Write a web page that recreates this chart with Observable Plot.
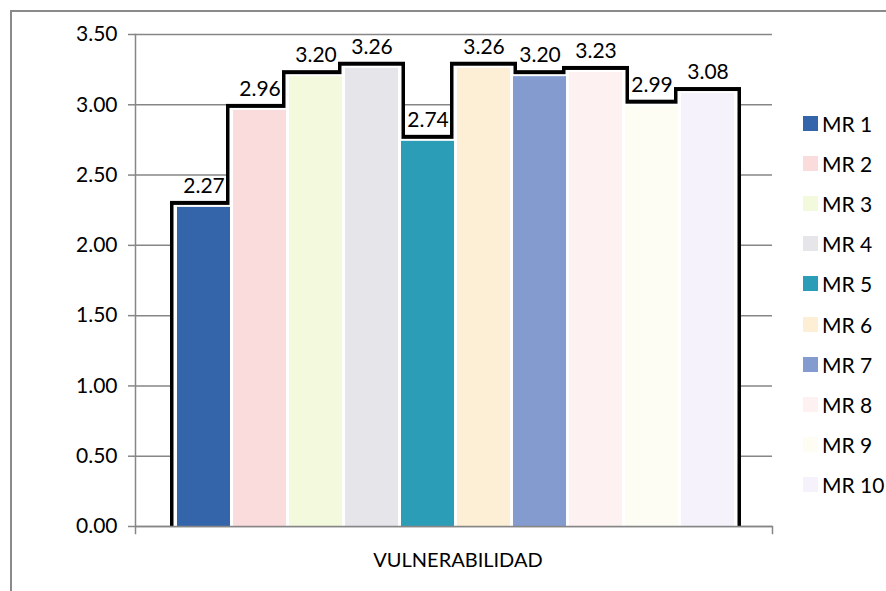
<!DOCTYPE html>
<html><head><meta charset="utf-8">
<script src="https://cdn.jsdelivr.net/npm/d3@7"></script>
<script src="https://cdn.jsdelivr.net/npm/@observablehq/plot@0.6"></script>
<style>
body{margin:0;background:#fff;}
#wrap{position:relative;width:886px;height:591px;overflow:hidden;font-family:Lato,sans-serif;background:#fff;}
#border{position:absolute;left:10px;top:10px;width:900px;height:600px;border-left:2px solid #8a8a8a;border-top:2px solid #8a8a8a;pointer-events:none;}
#chart{position:absolute;left:0;top:0;}
#legend{position:absolute;left:803px;top:0;}
.item{position:absolute;left:0;display:flex;align-items:center;white-space:nowrap;font-size:21px;color:#000;height:24px;}
.sw{width:15px;height:15px;margin-right:4px;}
</style></head><body>
<div id="wrap"><div id="chart"></div><div id="legend"></div><div id="border"></div></div>
<script>
const category = "VULNERABILIDAD";
const series = ["MR 1","MR 2","MR 3","MR 4","MR 5","MR 6","MR 7","MR 8","MR 9","MR 10"];
const values = [2.27, 2.96, 3.20, 3.26, 2.74, 3.26, 3.20, 3.23, 2.99, 3.08];
const colors = ["#3465ab","#fbdcdc","#f2f9dc","#e6e5ea","#2c9db6","#fdefd6","#839bcf","#fdf1f1","#fdfdf3","#f5f2fb"];
const yTicks = [0, 0.5, 1.0, 1.5, 2.0, 2.5, 3.0, 3.5];

const data = series.map((name, i) => ({name, value: values[i], color: colors[i]}));

const W = 886, H = 591, mt = 34, mb = 65, ml = 135, mr = 114;
const gray = "#868686";

const chart = Plot.plot({
  width: W, height: H,
  marginTop: mt, marginBottom: mb, marginLeft: ml, marginRight: mr,
  style: {fontFamily: "Lato, sans-serif", fontSize: "20px", background: "transparent", color: "#000"},
  x: {domain: series, paddingInner: 0.05, paddingOuter: 0, insetLeft: 42, insetRight: 37, axis: null},
  y: {domain: [0, 3.5], axis: null},
  marks: [
    Plot.gridY(yTicks, {stroke: gray, strokeOpacity: 1, strokeWidth: 1.5}),
    Plot.axisY(yTicks, {tickFormat: d3.format(".2f"), tickSize: 7, tickPadding: 11, stroke: gray, strokeWidth: 1.5, fill: "#000", fontSize: 21, label: null}),
    Plot.frame({anchor: "left", stroke: gray, strokeWidth: 1.5, insetBottom: -7}),
    Plot.frame({anchor: "right", stroke: gray, strokeWidth: 1.5, insetTop: H - mt - mb, insetBottom: -7}),
    Plot.text(data, {x: "name", y: "value", text: d => d.value.toFixed(2), dy: -21, fill: "#000", fontSize: 21}),
    Plot.barY(data, {x: "name", y: "value", fill: "#000", insetLeft: -7, insetRight: -7, insetTop: -6}),
    Plot.barY(data, {x: "name", y: "value", fill: "#fff", insetLeft: -3.5, insetRight: -3.5, insetTop: -2}),
    Plot.barY(data, {x: "name", y: "value", fill: "color"}),
    Plot.ruleY([0], {stroke: gray, strokeWidth: 1.5}),
    Plot.text([category], {frameAnchor: "bottom", dy: 40, dx: 4, fill: "#000", fontSize: 20})
  ]
});
document.getElementById("chart").appendChild(chart);

const legend = document.getElementById("legend");
series.forEach((name, i) => {
  const item = document.createElement("div");
  item.className = "item";
  item.style.top = (123 + 40.2 * i - 12) + "px";
  const sw = document.createElement("div");
  sw.className = "sw";
  sw.style.background = colors[i];
  const t = document.createElement("span");
  t.textContent = name;
  item.appendChild(sw); item.appendChild(t);
  legend.appendChild(item);
});
</script>
</body></html>
